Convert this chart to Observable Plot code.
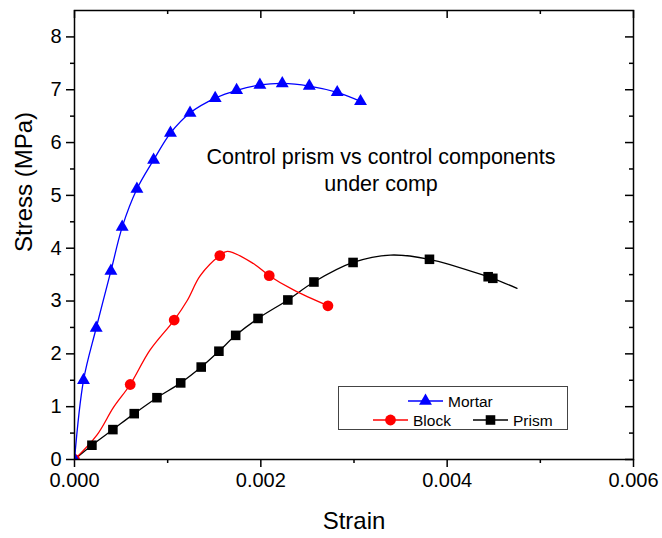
<!DOCTYPE html>
<html>
<head>
<meta charset="utf-8">
<script src="https://cdn.jsdelivr.net/npm/d3@7"></script>
<script src="https://cdn.jsdelivr.net/npm/@observablehq/plot@0.6"></script>
<style>
  html, body { margin: 0; padding: 0; background: white; }
  #wrap { position: relative; width: 662px; height: 538px; font-family: "Liberation Sans", Arial, sans-serif; }
  #legend { position: absolute; left: 338px; top: 386px; }
</style>
</head>
<body>
<div id="wrap"></div>
<script>
// ---- data ----
const mortarStrain = [0, 0.0000967, 0.000233, 0.000391, 0.000512, 0.00067, 0.000849, 0.00103, 0.00124, 0.00151, 0.00174, 0.00199, 0.00223, 0.00252, 0.00282, 0.00307];
const mortarStress = [0, 1.50, 2.49, 3.57, 4.40, 5.12, 5.67, 6.18, 6.56, 6.84, 6.99, 7.09, 7.12, 7.07, 6.95, 6.78];

const blockStrain = [0, 0.000598, 0.00107, 0.00156, 0.00209, 0.00272];
const blockStress = [0, 1.42, 2.64, 3.86, 3.48, 2.91];
const blockCurveStrain = [0, 0.00024, 0.00042, 0.000598, 0.00081, 0.00107, 0.00121, 0.00135, 0.00156, 0.00164, 0.00192, 0.00209, 0.00235, 0.00272];
const blockCurveStress = [0, 0.46, 0.99, 1.42, 2.07, 2.64, 3.01, 3.48, 3.86, 3.94, 3.71, 3.48, 3.21, 2.91];

const prismStrain = [0.000187, 0.000412, 0.000641, 0.000885, 0.00114, 0.00136, 0.00155, 0.00173, 0.00197, 0.00229, 0.00257, 0.00299, 0.00381, 0.00444, 0.00449];
const prismStress = [0.27, 0.566, 0.868, 1.17, 1.45, 1.75, 2.05, 2.35, 2.67, 3.02, 3.36, 3.73, 3.79, 3.46, 3.43];
const prismCurveStrain = [0, 0.000187, 0.000412, 0.000641, 0.000885, 0.00114, 0.00136, 0.00155, 0.00173, 0.00197, 0.00229, 0.00257, 0.00299, 0.00339, 0.00381, 0.00444, 0.00449, 0.00475];
const prismCurveStress = [0, 0.27, 0.566, 0.868, 1.17, 1.45, 1.75, 2.05, 2.35, 2.67, 3.02, 3.36, 3.73, 3.87, 3.79, 3.46, 3.43, 3.24];

const xTicks = [0, 0.002, 0.004, 0.006];
const xMinor = [0.001, 0.003, 0.005];
const yTicks = [0, 1, 2, 3, 4, 5, 6, 7, 8];
const yMinor = [0.5, 1.5, 2.5, 3.5, 4.5, 5.5, 6.5, 7.5];

const seriesNames = ["Mortar", "Block", "Prism"];
const titleText = "Control prism vs control components\nunder comp";
const xLabel = "Strain";
const yLabel = "Stress (MPa)";

// ---- build tables ----
const zip = (xs, ys) => xs.map((x, i) => ({x, y: ys[i]}));
const mortar = zip(mortarStrain, mortarStress);
const block = zip(blockStrain, blockStress);
const blockCurve = zip(blockCurveStrain, blockCurveStress);
const prism = zip(prismStrain, prismStress);
const prismCurve = zip(prismCurveStrain, prismCurveStress);

const FONT = "Liberation Sans, Arial, sans-serif";

const chart = Plot.plot({
  width: 662,
  height: 538,
  marginLeft: 74,
  marginRight: 29,
  marginTop: 10,
  marginBottom: 79,
  style: {fontFamily: FONT, fontSize: "20px", background: "white", color: "black"},
  x: {domain: [0, 0.006]},
  y: {domain: [0, 8.5]},
  marks: [
    // axes (outward on bottom/left, inward on top/right)
    Plot.axisX(xTicks, {anchor: "bottom", tickSize: 8, tickPadding: 5, strokeWidth: 1.5, tickFormat: d3.format(".3f"), fontSize: 20, label: null}),
    Plot.axisX(xMinor, {anchor: "bottom", tickSize: 4, strokeWidth: 1.5, text: null, label: null}),
    Plot.axisX(xTicks, {anchor: "bottom", frameAnchor: "top", tickSize: 8, strokeWidth: 1.5, text: null, label: null}),
    Plot.axisX(xMinor, {anchor: "bottom", frameAnchor: "top", tickSize: 4, strokeWidth: 1.5, text: null, label: null}),
    Plot.axisY(yTicks, {anchor: "left", tickSize: 8, tickPadding: 5, strokeWidth: 1.5, tickFormat: d3.format("d"), fontSize: 20, label: null}),
    Plot.axisY(yMinor, {anchor: "left", tickSize: 4, strokeWidth: 1.5, text: null, label: null}),
    Plot.axisY(yTicks, {anchor: "left", frameAnchor: "right", tickSize: 8, strokeWidth: 1.5, text: null, label: null}),
    Plot.axisY(yMinor, {anchor: "left", frameAnchor: "right", tickSize: 4, strokeWidth: 1.5, text: null, label: null}),
    // curves
    Plot.line(prismCurve, {x: "x", y: "y", stroke: "black", strokeWidth: 1.3, curve: "catmull-rom"}),
    Plot.line(blockCurve, {x: "x", y: "y", stroke: "#ff0000", strokeWidth: 1.3, curve: "catmull-rom"}),
    Plot.line(mortar, {x: "x", y: "y", stroke: "#0000ff", strokeWidth: 1.3, curve: "catmull-rom"}),
    // markers
    Plot.dot(prism, {x: "x", y: "y", symbol: "square", r: 5.4, fill: "black", stroke: "none", clip: true}),
    Plot.dot(block, {x: "x", y: "y", symbol: "circle", r: 5.4, fill: "#ff0000", stroke: "none", clip: true}),
    Plot.dot(mortar, {x: "x", y: "y", symbol: "triangle", r: 4.8, fill: "#0000ff", stroke: "none", clip: true}),
    Plot.frame({stroke: "black", strokeWidth: 1.5}),
    // annotation + axis labels
    Plot.text([titleText], {frameAnchor: "top", dx: 27, dy: 158, lineAnchor: "middle", lineHeight: 1.26, fontSize: 21.5, fill: "black"}),
    Plot.text([xLabel], {frameAnchor: "bottom", dy: 62, lineAnchor: "middle", fontSize: 24, fill: "black"}),
    Plot.text([yLabel], {frameAnchor: "left", dx: -50, dy: 17, rotate: -90, lineAnchor: "middle", fontSize: 24, fill: "black"})
  ]
});

const wrap = document.getElementById("wrap");
wrap.appendChild(chart);

// ---- legend ----
const lg = d3.select(wrap).append("svg")
  .attr("id", "legend")
  .attr("width", 232).attr("height", 46)
  .style("font-family", FONT);
lg.append("rect").attr("x", 0.5).attr("y", 0.5).attr("width", 229).attr("height", 43)
  .attr("fill", "white").attr("stroke", "#444").attr("stroke-width", 1);
const items = [
  {name: seriesNames[0], color: "#0000ff", symbol: d3.symbolTriangle, size: Math.PI * 4.8 * 4.8, x0: 70, y: 15},
  {name: seriesNames[1], color: "#ff0000", symbol: d3.symbolCircle, size: Math.PI * 5.4 * 5.4, x0: 35, y: 34},
  {name: seriesNames[2], color: "black", symbol: d3.symbolSquare, size: Math.PI * 5.4 * 5.4, x0: 135, y: 34}
];
for (const it of items) {
  const g = lg.append("g");
  g.append("line").attr("x1", it.x0).attr("x2", it.x0 + 35).attr("y1", it.y).attr("y2", it.y)
    .attr("stroke", it.color).attr("stroke-width", 1.3);
  g.append("path").attr("d", d3.symbol(it.symbol, it.size)())
    .attr("transform", `translate(${it.x0 + 17.5},${it.y})`).attr("fill", it.color);
  g.append("text").attr("x", it.x0 + 40).attr("y", it.y).attr("dy", "0.36em")
    .attr("font-size", 15.5).attr("fill", "black").text(it.name);
}
</script>
</body>
</html>
